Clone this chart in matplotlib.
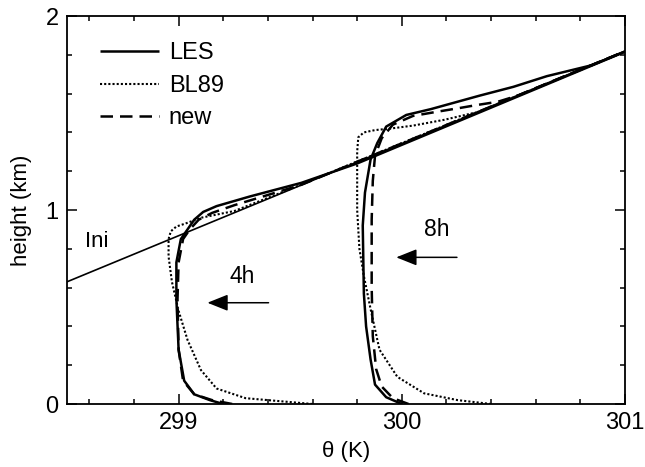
import matplotlib
matplotlib.use('Agg')
import matplotlib.pyplot as plt
from matplotlib.ticker import MultipleLocator

plt.rcParams['font.family'] = ['Liberation Sans', 'DejaVu Sans']

# initial profile
ini_theta = [297.174, 301.384]
ini_z = [0.0, 2.0]

# 4h profiles
les4_theta = [299.20, 299.14, 299.07, 299.025, 299.00, 298.99, 298.99, 299.01, 299.04, 299.07,
              299.11, 299.17, 299.32, 299.55, 299.80, 301.384]
les4_z = [0.00, 0.02, 0.05, 0.12, 0.28, 0.54, 0.73, 0.85, 0.90, 0.95,
          0.99, 1.02, 1.07, 1.14, 1.24, 2.00]

bl4_theta = [299.60, 299.45, 299.30, 299.17, 299.10, 299.04, 299.00, 298.97, 298.955, 298.955,
             298.965, 298.99, 299.03, 299.10, 299.25, 299.50, 301.384]
bl4_z = [0.00, 0.015, 0.03, 0.08, 0.175, 0.33, 0.48, 0.63, 0.76, 0.85,
         0.89, 0.915, 0.93, 0.96, 0.995, 1.108, 2.00]

new4_theta = [299.24, 299.15, 299.07, 299.02, 299.00, 298.995, 299.00, 299.02, 299.05, 299.09,
              299.15, 299.25, 299.35, 299.55, 299.75, 301.384]
new4_z = [0.00, 0.02, 0.05, 0.12, 0.28, 0.54, 0.73, 0.85, 0.90, 0.95,
          0.985, 1.025, 1.06, 1.13, 1.225, 2.00]

# 8h profiles
les8_theta = [300.00, 299.93, 299.88, 299.86, 299.84, 299.83, 299.825, 299.835, 299.86, 299.89,
              299.93, 300.02, 300.13, 300.35, 300.50, 300.65, 300.85, 301.384]
les8_z = [0.00, 0.035, 0.10, 0.23, 0.40, 0.57, 0.92, 1.09, 1.26, 1.345,
          1.43, 1.49, 1.52, 1.59, 1.635, 1.69, 1.746, 2.00]

bl8_theta = [300.40, 300.25, 300.10, 299.98, 299.90, 299.86, 299.83, 299.81, 299.80, 299.80,
             299.805, 299.83, 299.88, 299.95, 300.05, 300.19, 300.34, 301.384]
bl8_z = [0.00, 0.02, 0.055, 0.14, 0.28, 0.49, 0.66, 0.80, 1.00, 1.30,
         1.375, 1.40, 1.412, 1.42, 1.435, 1.465, 1.505, 2.00]

new8_theta = [300.03, 299.96, 299.91, 299.885, 299.87, 299.865, 299.865, 299.87, 299.88, 299.91,
              299.96, 300.05, 300.16, 300.25, 300.33, 300.43, 300.52, 301.384]
new8_z = [0.00, 0.03, 0.09, 0.18, 0.35, 0.60, 0.95, 1.15, 1.28, 1.37,
          1.44, 1.485, 1.507, 1.524, 1.54, 1.558, 1.59, 2.00]

fig = plt.figure(figsize=(6.45, 4.67), dpi=100)
ax = fig.add_axes([0.1039, 0.1349, 0.8651, 0.8308])

ax.plot(ini_theta, ini_z, color='k', lw=1.2)

solid = dict(color='k', lw=1.8, solid_capstyle='butt', solid_joinstyle='round')
dotted = dict(color='k', lw=1.5, linestyle=(0, (1, 1)))
dashed = dict(color='k', lw=1.8, linestyle=(0, (5, 2.8)))

ax.plot(les4_theta, les4_z, label='LES', **solid)
ax.plot(bl4_theta, bl4_z, label='BL89', **dotted)
ax.plot(new4_theta, new4_z, label='new', **dashed)
ax.plot(les8_theta, les8_z, **solid)
ax.plot(bl8_theta, bl8_z, **dotted)
ax.plot(new8_theta, new8_z, **dashed)

arrow = dict(arrowstyle='-|>,head_length=0.7,head_width=0.28', color='k', lw=1.1,
             mutation_scale=18, shrinkA=0, shrinkB=0)
ax.annotate('', xy=(299.129, 0.522), xytext=(299.403, 0.522), arrowprops=arrow)
ax.annotate('', xy=(299.975, 0.756), xytext=(300.247, 0.756), arrowprops=arrow)
ax.text(299.283, 0.656, '4h', fontsize=16.5, ha='center', va='center')
ax.text(300.158, 0.897, '8h', fontsize=16.5, ha='center', va='center')
ax.text(298.635, 0.84, 'Ini', fontsize=16, ha='center', va='center')

ax.set_xlim(298.5, 301)
ax.set_ylim(0, 2)
ax.set_xticks([299, 300, 301])
ax.set_yticks([0, 1, 2])
ax.xaxis.set_minor_locator(MultipleLocator(0.2))
ax.yaxis.set_minor_locator(MultipleLocator(0.2))
ax.tick_params(which='both', direction='in', top=True, right=True, width=1.1)
ax.tick_params(which='major', length=7, labelsize=17, pad=6)
ax.tick_params(which='minor', length=3.6)
for s in ax.spines.values():
    s.set_linewidth(1.3)

ax.set_xlabel('θ (K)', fontsize=16, labelpad=5)
ax.set_ylabel('height (km)', fontsize=16, labelpad=10)

ax.legend(loc='upper left', bbox_to_anchor=(0.03, 0.975), frameon=False, fontsize=17,
          handlelength=2.5, handletextpad=0.4, labelspacing=0.45, borderaxespad=0.3)

plt.savefig('out.png', dpi=100)
